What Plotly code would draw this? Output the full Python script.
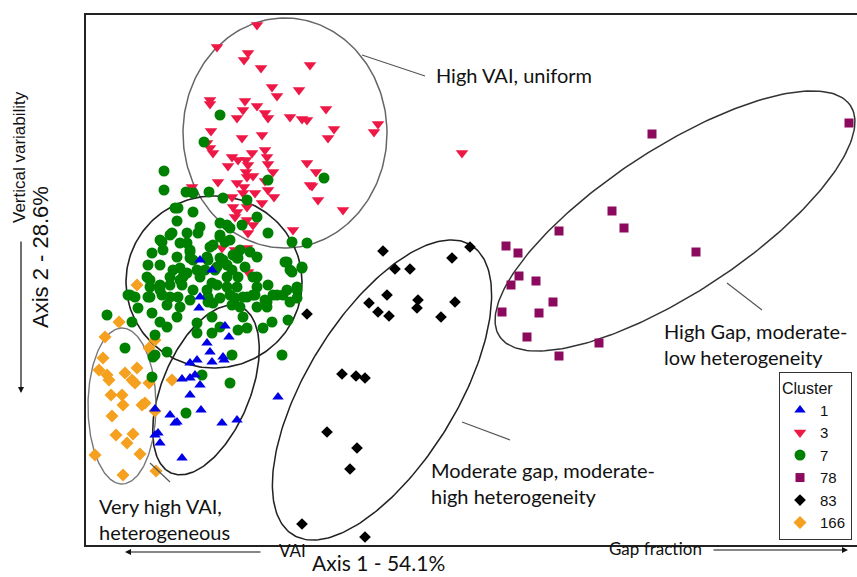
import numpy as np
import plotly.graph_objects as go

# ---------------- data (ordination scores; axis 2 increases downward) -------------
clusters = ["1", "3", "7", "78", "83", "166"]

c1_pts = [(200,260),(212,270),(200,297),(199,308),(225,326),(229,337),(207,343),(210,352),(223,357),
          (224,360),(190,363),(197,360),(212,362),(182,379),(190,378),(195,375),(200,385),(190,395),
          (201,410),(170,415),(175,423),(177,422),(222,423),(237,420),(158,433),(155,435),(160,443),
          (182,458),(278,397),(155,409)]

c3_pts = [(257,25),(217,47),(248,53),(244,60),(261,68),(310,65),(272,87),(277,96),(299,90),(210,100),
          (210,104),(245,101),(243,110),(257,106),(265,113),(268,118),(237,118),(290,117),(302,119),
          (307,120),(326,109),(378,124),(374,132),(334,129),(328,138),(211,131),(242,138),(262,135),
          (207,143),(210,148),(213,153),(252,153),(265,150),(267,157),(232,157),(238,160),(246,160),
          (228,166),(248,165),(268,164),(246,172),(253,176),(273,172),(307,163),(316,172),(218,182),
          (237,183),(244,187),(265,181),(312,186),(268,190),(192,187),(232,197),(243,193),(255,193),
          (274,197),(318,200),(262,203),(343,210),(233,207),(237,212),(247,207),(293,230),(462,153),
          (247,177),(235,217),(247,220),(253,225),(248,233),(222,248),(235,250),(247,248),(248,272),
          (310,185)]

c7_pts = [(220,115),(204,142),(268,180),(324,178),(164,171),(164,190),(186,192),(193,193),(209,192),
          (223,198),(247,200),(175,208),(193,212),(177,221),(200,227),(220,223),(242,225),(257,217),
          (268,233),(292,242),(307,243),(160,240),(170,235),(187,233),(227,225),(220,237),(152,253),
          (163,250),(180,243),(190,250),(213,245),(230,240),(240,250),(250,252),(148,265),(160,265),
          (177,257),(193,260),(207,257),(223,260),(237,258),(257,257),(285,262),(302,267),(147,277),
          (173,270),(183,277),(197,270),(215,270),(232,270),(245,267),(290,270),(257,277),(135,297),
          (150,287),(160,290),(170,285),(180,280),(200,277),(212,283),(227,277),(237,287),(253,295),
          (273,295),(297,290),(128,295),(150,297),(170,297),(190,300),(208,297),(230,295),(243,297),
          (283,295),(290,302),(107,315),(132,322),(138,308),(152,313),(167,305),(180,307),(213,303),
          (232,305),(257,307),(267,302),(160,322),(167,327),(177,317),(197,323),(212,317),(220,327),
          (243,317),(272,322),(288,320),(197,333),(212,333),(238,330),(247,328),(263,328),(155,335),
          (125,348),(155,355),(167,352),(232,355),(282,355),(153,357),(152,377),(230,383),(202,375),
          (186,413),(178,208),(198,233),(172,233),(162,242),(187,243),(190,252),(210,247),(220,235),
          (230,228),(225,242),(233,255),(220,258),(208,260),(190,258),(180,268),(187,273),(205,270),
          (217,267),(227,265),(238,258),(287,262),(292,272),(302,268),(150,280),(160,285),(170,277),
          (182,285),(193,290),(207,290),(217,285),(227,287),(238,277),(253,277),(257,287),(268,285),
          (277,295),(287,290),(297,287),(130,295),(148,297),(162,295),(178,297),(208,302),(220,298),
          (235,298),(247,297),(255,295),(265,300),(297,298),(240,307),(267,307)]

c78_pts = [(849,123),(652,134),(612,211),(624,228),(559,231),(696,252),(506,246),(518,253),(519,276),
           (511,285),(536,281),(553,302),(502,312),(539,313),(527,337),(599,343),(559,356)]

c83_pts = [(383,251),(470,247),(452,258),(395,269),(410,269),(387,295),(369,303),(378,312),(389,316),
           (418,300),(417,308),(455,302),(441,317),(307,314),(342,374),(356,376),(365,378),(327,432),
           (357,448),(350,469),(302,524),(365,537)]

c166_pts = [(137,285),(119,322),(105,337),(155,340),(149,348),(103,358),(99,370),(107,375),(109,380),
            (125,373),(137,368),(132,380),(135,383),(149,383),(172,380),(111,395),(122,395),(123,405),
            (142,405),(145,403),(155,411),(112,416),(116,435),(133,434),(127,443),(95,455),(140,454),
            (123,475),(156,471)]

group_labels = ["High VAI, uniform",
                "High Gap, moderate-<br>low heterogeneity",
                "Moderate gap, moderate-<br>high heterogeneity",
                "Very high VAI,<br>heterogeneous"]
axis1_title = "Axis 1 - 54.1%"
axis2_title = "Axis 2 - 28.6%"

# ---------------- layout geometry -------------
W, H = 857, 577
ML, MT, MR, MB = 86, 15, 0, 32
XR = [86, 857]
YR = [545, 15]


def P(px, py):
    return (px - ML) / (W - ML - MR), (H - MB - py) / (H - MT - MB)


styles = {
    "1":   dict(symbol="triangle-up", color="#0000E6", size=10),
    "3":   dict(symbol="triangle-down", color="#EE1846", size=11),
    "7":   dict(symbol="circle", color="#008000", size=11),
    "78":  dict(symbol="square", color="#8C0A5E", size=9),
    "83":  dict(symbol="diamond", color="#000000", size=9),
    "166": dict(symbol="diamond", color="#F5A01E", size=10),
}
pts = {"1": c1_pts, "3": c3_pts, "7": c7_pts, "78": c78_pts, "83": c83_pts, "166": c166_pts}

# ellipses: cx, cy, a, b, angle(deg), color, width
ellipses = [
    (285, 133, 102, 115, 0, "#666666", 1.5),
    (214, 282, 88, 86, 0, "#222222", 1.6),
    (206, 390, 90, 44, -67.5, "#222222", 1.6),
    (122, 406, 34, 78, 0, "#777777", 1.4),
    (382, 390, 170, 75, -58.4, "#222222", 1.5),
    (675, 221, 210, 72, -33.3, "#333333", 1.5),
]

fig = go.Figure()

t = np.linspace(0, 2 * np.pi, 240)
for cx, cy, a, b, ang, col, wd in ellipses:
    th = np.deg2rad(ang)
    ex = cx + a * np.cos(th) * np.cos(t) - b * np.sin(th) * np.sin(t)
    ey = cy + a * np.sin(th) * np.cos(t) + b * np.cos(th) * np.sin(t)
    fig.add_trace(go.Scatter(x=ex, y=ey, mode="lines", line=dict(color=col, width=wd),
                             hoverinfo="skip", showlegend=False))

draw_order = ["166", "83", "78", "3", "7", "1"]
for c in draw_order:
    s = styles[c]
    xs = [p[0] for p in pts[c]]
    ys = [p[1] for p in pts[c]]
    fig.add_trace(go.Scatter(x=xs, y=ys, mode="markers", name=c,
                             legendrank=clusters.index(c) + 1,
                             marker=dict(symbol=s["symbol"], color=s["color"], size=s["size"],
                                         line=dict(width=0))))

# leader lines
leaders = [((362, 55), (425, 76)), ((727, 283), (762, 310)), ((462, 422), (510, 440)), ((150, 463), (170, 482))]
shapes = []
for (x0, y0), (x1, y1) in leaders:
    shapes.append(dict(type="line", xref="x", yref="y", x0=x0, y0=y0, x1=x1, y1=y1,
                       line=dict(color="#555555", width=1.2)))

tfont = dict(family="Lato, Open Sans, sans-serif", size=20, color="#111111")
ann = [
    dict(x=434, y=75, text=group_labels[0], xanchor="left", yanchor="middle"),
    dict(x=662, y=317, text=group_labels[1], xanchor="left", yanchor="top"),
    dict(x=429, y=456, text=group_labels[2], xanchor="left", yanchor="top"),
    dict(x=97, y=492, text=group_labels[3], xanchor="left", yanchor="top"),
]
annotations = []
for a in ann:
    annotations.append(dict(xref="x", yref="y", showarrow=False, align="left", font=tfont, **a))

# outside texts
def pa(px, py, text, size, family, angle=0):
    x, y = P(px, py)
    return dict(xref="paper", yref="paper", x=x, y=y, text=text, showarrow=False,
                xanchor="center", yanchor="middle", textangle=angle,
                font=dict(family=family, size=size, color="#111111"))

annotations.append(pa(378, 562, axis1_title, 21, "Lato, sans-serif"))
annotations.append(pa(292, 550, "VAI", 17, "Lato, sans-serif"))
annotations.append(pa(655, 548, "Gap fraction", 17, "Lato, sans-serif"))
annotations.append(pa(40, 257, axis2_title, 22, "Liberation Sans, Arial", -90))
annotations.append(pa(19, 157, "Vertical variability", 17, "Liberation Sans, Arial", -90))

def arrow(hx, hy, tx, ty):
    x, y = P(hx, hy)
    return dict(xref="paper", yref="paper", x=x, y=y, ax=tx - hx, ay=ty - hy, text="",
                showarrow=True, arrowhead=2, arrowsize=1, arrowwidth=1.2, arrowcolor="#111111")

annotations.append(arrow(125, 552, 262, 552))
annotations.append(arrow(848, 550, 712, 550))
annotations.append(arrow(21, 393, 21, 240))

lx, ly = P(779, 372)
fig.update_layout(
    width=W, height=H,
    margin=dict(l=ML, r=MR, t=MT, b=MB, pad=0),
    paper_bgcolor="white", plot_bgcolor="white",
    xaxis=dict(range=XR, showgrid=False, zeroline=False, showticklabels=False, ticks="",
               showline=True, linecolor="#222222", linewidth=2, mirror=True),
    yaxis=dict(range=YR, showgrid=False, zeroline=False, showticklabels=False, ticks="",
               showline=True, linecolor="#222222", linewidth=2, mirror=False),
    legend=dict(x=lx, y=ly, xanchor="left", yanchor="top", bgcolor="white",
                bordercolor="#333333", borderwidth=1, itemwidth=30, tracegroupgap=0,
                title=dict(text="Cluster", font=dict(family="Liberation Sans, Arial", size=16)),
                font=dict(family="Liberation Sans, Arial", size=15, color="#111111")),
    shapes=shapes,
    annotations=annotations,
    showlegend=True,
)

fig.write_html("out.html")
